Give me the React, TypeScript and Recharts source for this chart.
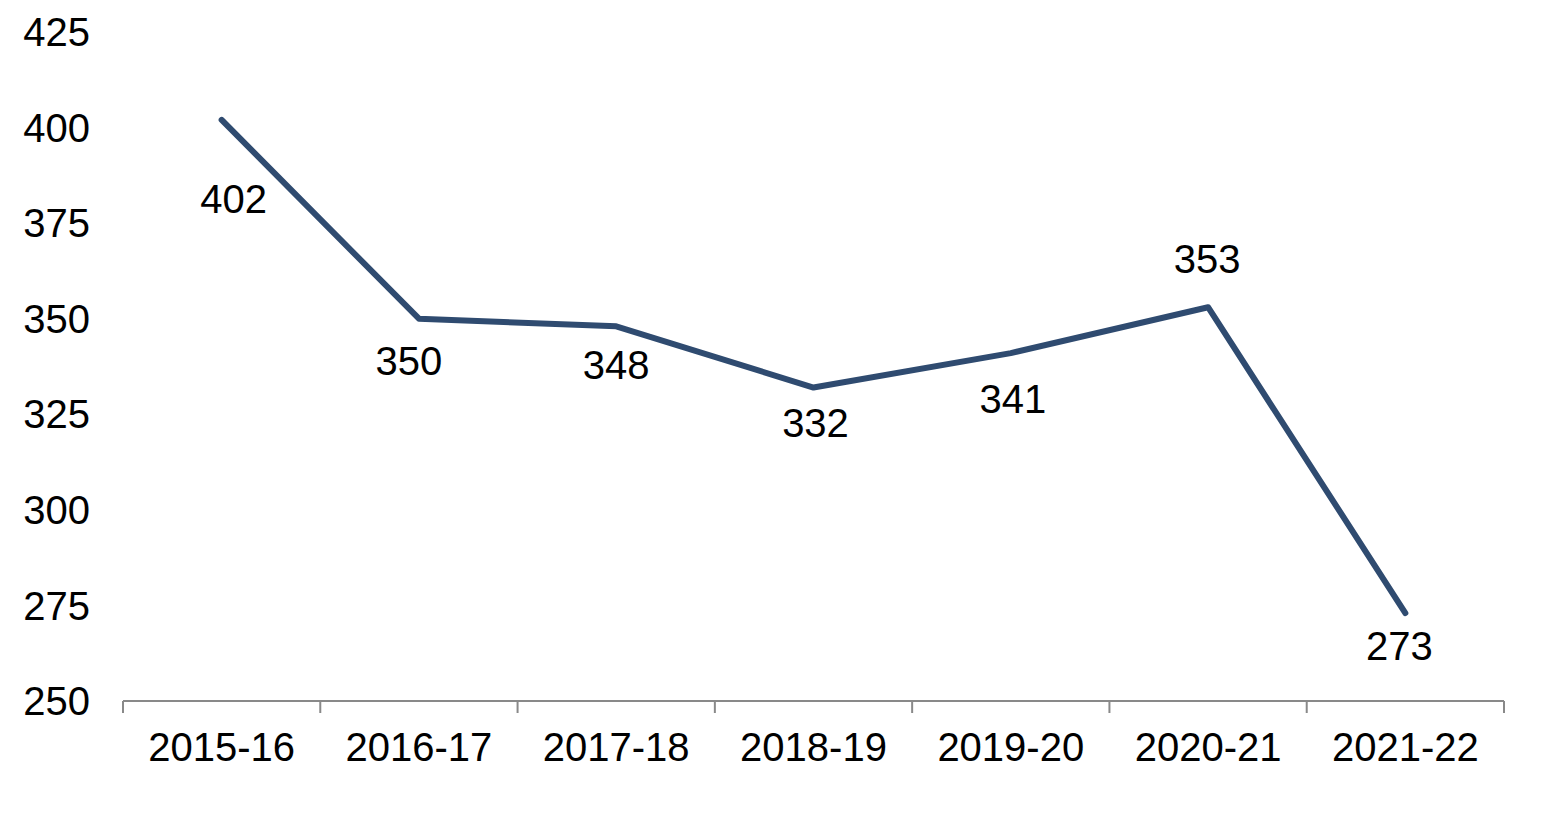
import { LineChart, Line, XAxis, YAxis, LabelList } from "recharts";

const years = ["2015-16", "2016-17", "2017-18", "2018-19", "2019-20", "2020-21", "2021-22"];
const counts = [402, 350, 348, 332, 341, 353, 273];
const yTicks = [250, 275, 300, 325, 350, 375, 400, 425];

// where each value label sits relative to its point (dx, dy to label centre)
const labelNudge = [
  [12, 79],
  [-10, 42],
  [0, 39],
  [2, 35],
  [2, 46],
  [-1, -48],
  [-6, 33],
];

const data = years.map((year, i) => ({ year, count: counts[i] }));

const FONT = "'Liberation Sans', Arial, sans-serif";
const FONT_SIZE = 40;
const PLOT_LEFT = 123;
const PLOT_RIGHT = 1504;
const PLOT_BOTTOM = 701;
const BAND = (PLOT_RIGHT - PLOT_LEFT) / years.length;

const XTick = (props: any) => {
  const { x, y, payload, index } = props;
  const half = BAND / 2;
  return (
    <g>
      <line x1={x - half} y1={y} x2={x - half} y2={y + 12} stroke="#898989" strokeWidth={2} />
      {index === years.length - 1 && (
        <line x1={x + half} y1={y} x2={x + half} y2={y + 12} stroke="#898989" strokeWidth={2} />
      )}
      <text x={x} y={y + 60} textAnchor="middle" fontSize={FONT_SIZE} fill="#000" fontFamily={FONT}>
        {payload.value}
      </text>
    </g>
  );
};

const ValueLabel = (props: any) => {
  const { x, y, value, index } = props;
  const [dx, dy] = labelNudge[index] || [0, 40];
  return (
    <text x={x + dx} y={y + dy + 14} textAnchor="middle" fontSize={FONT_SIZE} fill="#000" fontFamily={FONT}>
      {value}
    </text>
  );
};

export default function App() {
  return (
    <div style={{ position: "absolute", left: 0, top: 0, width: 1552, height: 818, background: "#fff" }}>
      <LineChart
        width={1552}
        height={818}
        data={data}
        margin={{ top: 32, right: 1552 - PLOT_RIGHT, bottom: 0, left: 0 }}
      >
        <XAxis
          dataKey="year"
          scale="band"
          height={818 - PLOT_BOTTOM}
          tick={<XTick />}
          tickLine={false}
          tickSize={0}
          tickMargin={0}
          axisLine={{ stroke: "#898989", strokeWidth: 2 }}
          interval={0}
        />
        <YAxis
          width={PLOT_LEFT}
          domain={[250, 425]}
          ticks={yTicks}
          axisLine={false}
          tickLine={false}
          tickMargin={27}
          tick={{ fontSize: FONT_SIZE, fill: "#000", fontFamily: FONT }}
        />
        <Line
          dataKey="count"
          stroke="#2f4b70"
          strokeWidth={6}
          strokeLinecap="round"
          strokeLinejoin="round"
          dot={false}
          isAnimationActive={false}
        >
          <LabelList dataKey="count" content={<ValueLabel />} />
        </Line>
      </LineChart>
    </div>
  );
}
